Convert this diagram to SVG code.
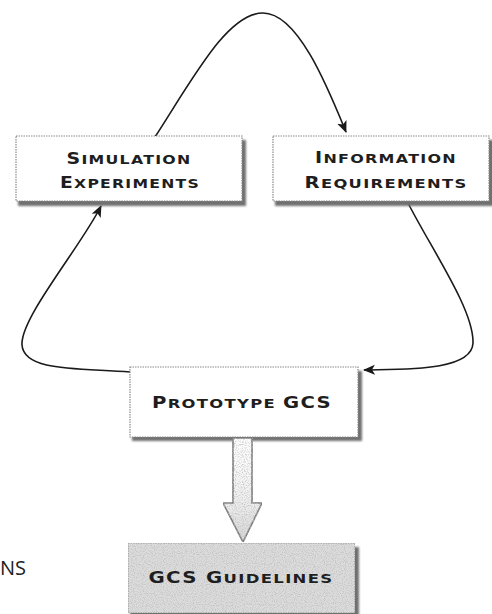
<svg xmlns="http://www.w3.org/2000/svg" width="492" height="614" viewBox="0 0 492 614">
<defs>
<style>
.box{fill:#fff;stroke:#8a8a8a;stroke-width:1.2;stroke-dasharray:1.5 1}
.shadow{fill:#6f6f6f;filter:url(#blur)}
.lbl{font-family:"DejaVu Sans",sans-serif;font-weight:bold;fill:#1e1e1e;text-anchor:middle;letter-spacing:1px}
.big{font-size:15px}
.sm{font-size:12.5px}
.conn{fill:none;stroke:#1a1a1a;stroke-width:1.6;marker-end:url(#ah)}
</style>
<filter id="blur" x="-5%" y="-20%" width="110%" height="140%"><feGaussianBlur stdDeviation="1.2"/></filter>
<filter id="grain" x="0" y="0" width="100%" height="100%">
<feTurbulence type="fractalNoise" baseFrequency="0.9" numOctaves="1" seed="3" result="n"/>
<feColorMatrix in="n" type="matrix" values="0 0 0 0 0.5  0 0 0 0 0.5  0 0 0 0 0.5  0 0 0 -2.6 1.45" result="dots"/>
<feComposite in="dots" in2="SourceGraphic" operator="in" result="d2"/>
<feMerge><feMergeNode in="SourceGraphic"/><feMergeNode in="d2"/></feMerge>
</filter>
<linearGradient id="ag" x1="0" y1="0" x2="0" y2="1">
<stop offset="0" stop-color="#ffffff"/>
<stop offset="0.55" stop-color="#f2f2f2"/>
<stop offset="1" stop-color="#d6d6d6"/>
</linearGradient>
<marker id="ah" markerUnits="userSpaceOnUse" markerWidth="14" markerHeight="12" refX="11" refY="5" orient="auto">
<path d="M0,0 L12,5 L0,10 L3,5 z" fill="#1a1a1a"/>
</marker>
</defs>

<g id="connectors">
<path class="conn" d="M155,137 C195,75 228,13 263,13 C298,13 328,88 346,132"/>
<path class="conn" d="M130,372 C80,368 24,372 22,345 C20,318 82,245 101,206"/>
<path class="conn" d="M408,203 C432,250 474,310 473,343 C472,372 400,369 364,370"/>
</g>

<g id="simulation-experiments">
<rect class="shadow" x="18" y="140" width="228" height="66"/>
<rect class="box" x="16" y="136" width="226" height="65"/>
<text class="lbl" x="129" y="164" textLength="125" lengthAdjust="spacingAndGlyphs"><tspan class="big">S</tspan><tspan class="sm">IMULATION</tspan></text>
<text class="lbl" x="130" y="188" textLength="140" lengthAdjust="spacingAndGlyphs"><tspan class="big">E</tspan><tspan class="sm">XPERIMENTS</tspan></text>
</g>

<g id="information-requirements">
<rect class="shadow" x="275" y="140" width="220" height="66"/>
<rect class="box" x="273" y="136" width="216" height="65"/>
<text class="lbl" x="386" y="163" textLength="142" lengthAdjust="spacingAndGlyphs"><tspan class="big">I</tspan><tspan class="sm">NFORMATION</tspan></text>
<text class="lbl" x="386" y="188" textLength="163" lengthAdjust="spacingAndGlyphs"><tspan class="big">R</tspan><tspan class="sm">EQUIREMENTS</tspan></text>
</g>

<g id="prototype-gcs">
<rect class="shadow" x="132" y="371" width="230" height="70"/>
<rect class="box" x="130" y="367" width="228" height="70"/>
<text class="lbl" x="242" y="408" textLength="180" lengthAdjust="spacingAndGlyphs"><tspan class="big">P</tspan><tspan class="sm">ROTOTYPE </tspan><tspan class="big">GCS</tspan></text>
</g>

<g id="block-arrow">
<polygon points="233,438 252,438 252,503 262,503 243,542 223,503 233,503" fill="url(#ag)" stroke="#7a7a7a" stroke-width="1.6" filter="url(#grain)"/>
</g>

<g id="gcs-guidelines">
<rect class="shadow" x="130" y="547" width="229" height="70"/>
<rect x="128" y="543" width="227" height="70" fill="#dcdcdc" stroke="#8a8a8a" stroke-width="1.2" stroke-dasharray="1.5 1" filter="url(#grain)"/>
<text class="lbl" x="241" y="583" textLength="185" lengthAdjust="spacingAndGlyphs"><tspan class="big">GCS G</tspan><tspan class="sm">UIDELINES</tspan></text>
</g>

<text x="0" y="575" font-family="'Open Sans',sans-serif" font-size="20" fill="#222">NS</text>
</svg>
